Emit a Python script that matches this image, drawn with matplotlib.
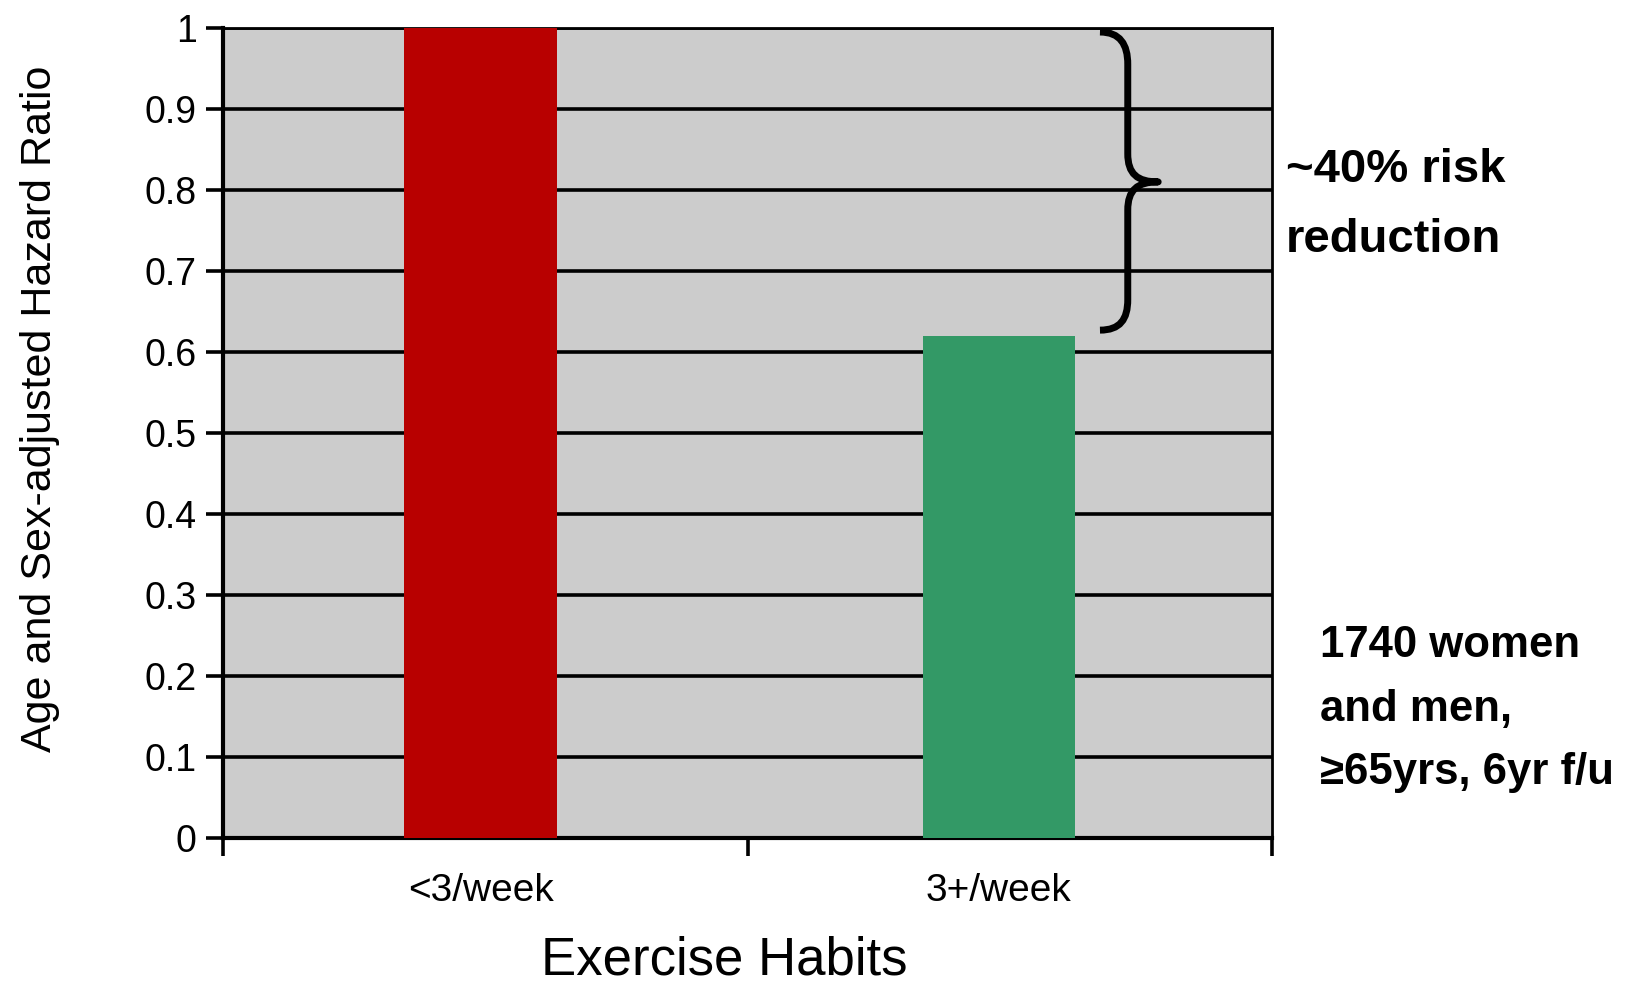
import matplotlib
matplotlib.use("Agg")
import matplotlib.pyplot as plt
from matplotlib.path import Path
from matplotlib.patches import PathPatch

categories = ["<3/week", "3+/week"]
hazard_ratio = [1.0, 0.62]
bar_colors = ["#B80000", "#339966"]
yticks = [0, 0.1, 0.2, 0.3, 0.4, 0.5, 0.6, 0.7, 0.8, 0.9, 1]
ytick_labels = ["0", "0.1", "0.2", "0.3", "0.4", "0.5", "0.6", "0.7", "0.8", "0.9", "1"]

font = ["Liberation Sans", "DejaVu Sans"]

fig = plt.figure(figsize=(16.35, 9.84), dpi=100)
ax = fig.add_axes([223 / 1635, 1 - 838 / 984, (1272 - 223) / 1635, (838 - 28) / 984])
ax.set_facecolor("#CCCCCC")

# bars sit slightly left of the category centres in the original
x = [i * 0.988 - 0.009 for i in range(len(categories))]
ax.bar(x, hazard_ratio, width=0.29, color=bar_colors, zorder=3)

ax.set_xlim(-0.5, 1.5)
ax.set_ylim(0, 1)
ax.set_yticks(yticks)
ax.set_yticklabels(ytick_labels, family=font, fontsize=27)
ax.yaxis.grid(True, color="black", linewidth=2.6, zorder=1)
ax.set_axisbelow(True)

# category boundaries as ticks, labels centred on the bars
ax.set_xticks([-0.5, 0.5, 1.5])
ax.set_xticklabels([])
ax.set_xticks(x, minor=True)
ax.set_xticklabels(categories, minor=True, family=font, fontsize=28)
ax.tick_params(axis="x", which="minor", length=0, pad=25)
ax.tick_params(axis="x", which="major", length=13, width=2.6, direction="out")
ax.tick_params(axis="y", length=12, width=2.6, pad=7)

for side in ["left", "bottom"]:
    ax.spines[side].set_linewidth(3)
for side in ["top", "right"]:
    ax.spines[side].set_linewidth(2)

ax.set_xlabel("Exercise Habits", family=font, fontsize=38)
ax.xaxis.set_label_coords(0.478, -0.12)
ax.set_ylabel("Age and Sex-adjusted Hazard Ratio", family=font, fontsize=31)
ax.yaxis.set_label_coords(-0.155, 0.53)

# curly brace spanning the gap between the two bars
top, low = hazard_ratio[0], hazard_ratio[1]
mid = (top + low) / 2
x0, xs, xt = 1.172, 1.225, 1.283
verts = [
    (x0, top - 0.005), (1.21, top - 0.005), (xs, top - 0.02), (xs, top - 0.045),
    (xs, mid + 0.035),
    (xs, mid + 0.01), (xt - 0.04, mid), (xt, mid),
    (xt - 0.04, mid), (xs, mid - 0.01), (xs, mid - 0.035),
    (xs, low + 0.045),
    (xs, low + 0.02), (1.21, low + 0.007), (x0, low + 0.007),
]
codes = [Path.MOVETO, Path.CURVE4, Path.CURVE4, Path.CURVE4,
         Path.LINETO,
         Path.CURVE4, Path.CURVE4, Path.CURVE4,
         Path.CURVE4, Path.CURVE4, Path.CURVE4,
         Path.LINETO,
         Path.CURVE4, Path.CURVE4, Path.CURVE4]
ax.add_patch(PathPatch(Path(verts, codes), facecolor="none", edgecolor="black",
                       linewidth=5, capstyle="butt", joinstyle="round", zorder=4))

fig.text(1286 / 1635, 1 - 205 / 984, "~40% risk\nreduction", family=font,
         fontweight="bold", fontsize=34, va="center", ha="left", linespacing=1.75)
fig.text(1320 / 1635, 1 - 709 / 984, "1740 women\nand men,\n\u226565yrs, 6yr f/u", family=font,
         fontweight="bold", fontsize=31.5, va="center", ha="left", linespacing=1.7)

fig.savefig("out.png", dpi=100)
